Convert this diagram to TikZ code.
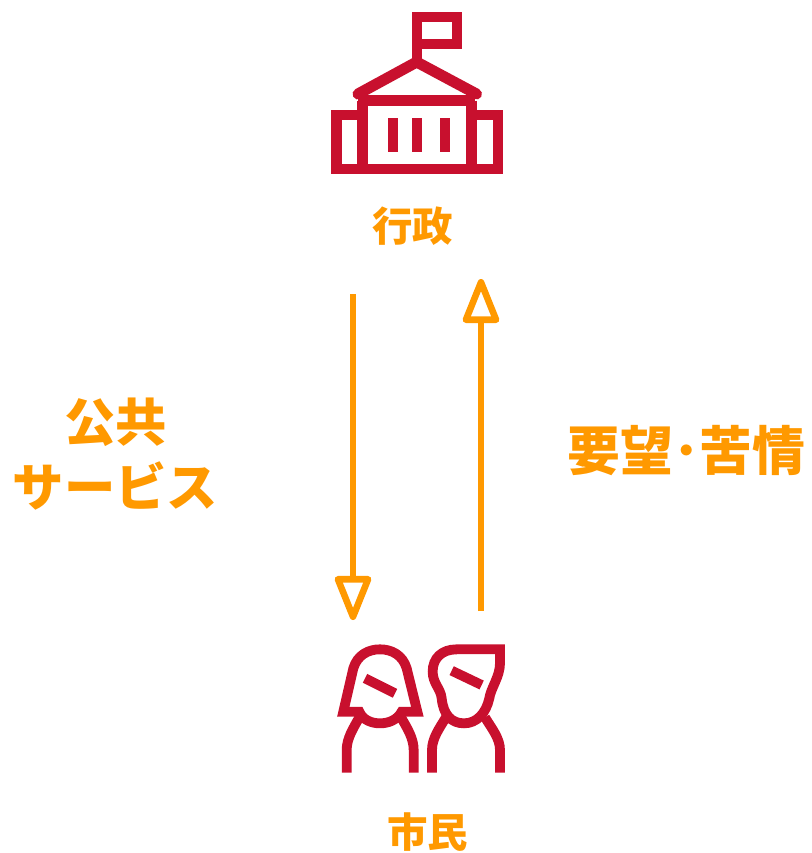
\documentclass[tikz,border=0pt]{standalone}
\usepackage{fontspec}
\usepackage{xcolor}
\usetikzlibrary{arrows.meta}
\newfontfamily\cjk{Noto Sans CJK JP}
\definecolor{iconred}{RGB}{200, 16, 46}
\definecolor{flowgold}{RGB}{255, 153, 0}
\tikzset{
    iconline/.style={iconred, line width=10.2*0.25mm, line join=miter},
    peopleline/.style={iconred, line width=9.8*0.25mm, line join=round},
    flowline/.style={flowgold, line width=6.6*0.25mm, line join=round,
        -{Triangle[open, length=50*0.25mm, width=38*0.25mm, round]}},
    smalllabel/.style={text=flowgold, font=\cjk\bfseries\fontsize{28.8}{34}\selectfont, inner sep=0pt},
    biglabel/.style={text=flowgold, font=\cjk\bfseries\fontsize{36.5}{46}\selectfont, inner sep=0pt, align=center},
    widelabel/.style={biglabel, font=\cjk\bfseries\fontsize{37.6}{46}\selectfont}
}

\begin{document}
\begin{tikzpicture}[x=0.25mm, y=-0.25mm]
    % Background - same proportions as the reference
    \fill[white] (0,0) rectangle (812, 853);
    \useasboundingbox (0,0) rectangle (812, 853);

    % Town hall icon
    \draw[iconline] (416.7, 63) -- (416.7, 17) -- (457, 17) -- (457, 44) -- (416.7, 44);
    \draw[iconline, line width=11*0.25mm, line cap=round, line join=round] (358, 94) -- (416.7, 62) -- (476.5, 94);
    \draw[iconline] (358, 100.5) -- (475, 100.5);
    \draw[iconline] (362.5, 100.5) -- (362.5, 169);
    \draw[iconline] (471.5, 100.5) -- (471.5, 169);
    \draw[iconline] (358, 115) -- (336.5, 115) -- (336.5, 169) -- (497.8, 169) -- (497.8, 115) -- (476, 115);
    % Columns
    \foreach \x in {392.7, 416.7, 444.7} {
        \fill[iconred] (\x-5, 117.5) rectangle (\x+5, 151.7);
    }

    % Citizens icon, left person
    \begin{scope}[shift={(320, 630)}, x=0.25mm/3, y=-0.25mm/3]
        \draw[peopleline, line join=miter] (70, 245) -- (100, 115)
            .. controls (112, 75) and (145, 58) .. (180, 58)
            .. controls (215, 58) and (248, 75) .. (260, 115)
            -- (292, 245) -- (245, 245)
            .. controls (232, 270) and (205, 280) .. (180, 280)
            .. controls (155, 280) and (128, 270) .. (118, 245) -- cycle;
        \draw[peopleline, line cap=butt] (135, 145) -- (225, 190);
        \draw[peopleline] (80, 428) -- (80, 360)
            .. controls (80, 325) and (100, 295) .. (118, 262);
        \draw[peopleline] (281, 428) -- (281, 360)
            .. controls (281, 325) and (262, 295) .. (243, 262);
        % Right person
        \draw[peopleline, line join=miter] (540, 58) -- (410, 58)
            .. controls (365, 58) and (338, 85) .. (338, 125)
            .. controls (338, 160) and (362, 175) .. (365, 205)
            .. controls (370, 255) and (395, 280) .. (432, 280)
            .. controls (470, 280) and (498, 250) .. (508, 205)
            .. controls (512, 175) and (540, 140) .. (540, 100) -- cycle;
        \draw[peopleline, line cap=butt] (395, 122) -- (485, 165);
        \draw[peopleline] (336, 428) -- (336, 360)
            .. controls (336, 325) and (358, 295) .. (378, 262);
        \draw[peopleline] (540, 428) -- (540, 360)
            .. controls (540, 325) and (515, 295) .. (495, 262);
    \end{scope}

    % Labels
    \node[smalllabel] (gyosei) at (412.5, 226) {行政};
    \node[smalllabel] (shimin) at (427.5, 832) {市民};
    \node[biglabel] (service) at (115.5, 454) {公共\\サービス};
    \node[widelabel] (request) at (686.5, 451) {要望･苦情};

    % Flows between the two
    \coordinate (downstart) at (353, 294);
    \coordinate (downend) at (353, 620);
    \coordinate (upstart) at (481, 611);
    \coordinate (upend) at (481, 279);
    \draw[flowline] (downstart) -- (downend);
    \draw[flowline] (upstart) -- (upend);

\end{tikzpicture}
\end{document}
